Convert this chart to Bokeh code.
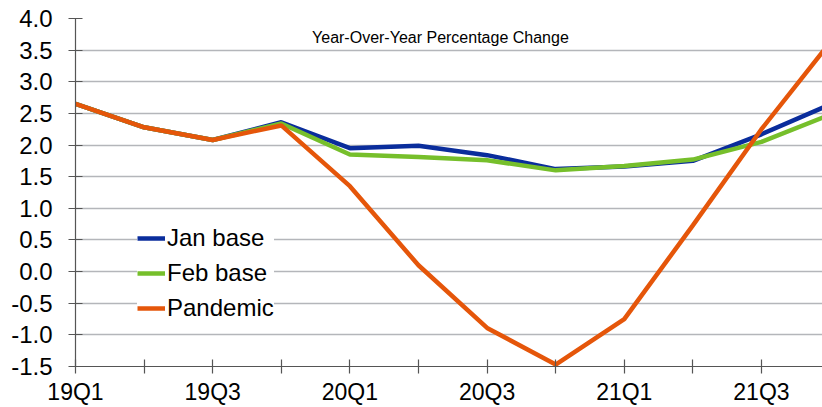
from bokeh.plotting import figure
from bokeh.models import Range1d, FixedTicker, Legend, LegendItem, Label
from bokeh.embed import file_html
from bokeh.resources import INLINE

quarters = ["19Q1", "19Q2", "19Q3", "19Q4", "20Q1", "20Q2", "20Q3", "20Q4",
            "21Q1", "21Q2", "21Q3", "21Q4"]
jan_base = [2.65, 2.28, 2.08, 2.36, 1.95, 1.99, 1.84, 1.62, 1.66, 1.75, 2.17, 2.64]
feb_base = [2.65, 2.28, 2.08, 2.34, 1.85, 1.81, 1.76, 1.60, 1.67, 1.77, 2.05, 2.48]
pandemic = [2.65, 2.28, 2.08, 2.31, 1.35, 0.10, -0.89, -1.47, -0.75, 0.73, 2.25, 3.62]
y_ticks = [-1.5, -1.0, -0.5, 0.0, 0.5, 1.0, 1.5, 2.0, 2.5, 3.0, 3.5, 4.0]
title_text = "Year-Over-Year Percentage Change"

xs = list(range(len(quarters)))
FONT = "Liberation Sans"

p = figure(width=822, height=407, output_backend="svg", toolbar_location=None,
           x_range=Range1d(0, 10.89), y_range=Range1d(-1.5, 4.0),
           min_border_left=75, min_border_right=0, min_border_top=18,
           min_border_bottom=41)
p.outline_line_color = None
p.background_fill_color = "white"

# axes
p.xaxis.ticker = FixedTicker(ticks=xs)
p.xaxis.major_label_overrides = {i: (q if i % 2 == 0 else "") for i, q in enumerate(quarters)}
p.yaxis.ticker = FixedTicker(ticks=y_ticks)
p.yaxis.major_label_overrides = {v: f"{v:.1f}" for v in y_ticks}
for ax in (p.xaxis, p.yaxis):
    ax.axis_line_color = "#555555"
    ax.axis_line_width = 1.2
    ax.major_tick_line_color = "#555555"
    ax.major_tick_line_width = 1.2
    ax.major_tick_in = 7
    ax.major_tick_out = 7
    ax.minor_tick_line_color = None
    ax.major_label_text_font = FONT
    ax.major_label_text_color = "black"
p.xaxis.major_label_text_font_size = "23px"
p.yaxis.major_label_text_font_size = "24px"
p.xaxis.major_label_standoff = 5
p.yaxis.major_label_standoff = 16

p.xgrid.grid_line_color = None
p.ygrid.grid_line_color = "#b4b6ba"
p.ygrid.grid_line_width = 1.3

r_jan = p.line(xs, jan_base, line_color="#0a2d9c", line_width=4.5)
r_feb = p.line(xs, feb_base, line_color="#76bf2b", line_width=4.5)
r_pan = p.line(xs, pandemic, line_color="#e5560a", line_width=4.5)

p.add_layout(Label(x=5.32, y=3.70, text=title_text, text_align="center",
                   text_baseline="middle", text_font=FONT,
                   text_font_size="16px", text_color="black"))

legend = Legend(items=[LegendItem(label="Jan base", renderers=[r_jan]),
                       LegendItem(label="Feb base", renderers=[r_feb]),
                       LegendItem(label="Pandemic", renderers=[r_pan])],
                location=(62, 42), padding=16, margin=0, spacing=3,
                label_height=32, glyph_height=32, glyph_width=28,
                label_standoff=2, border_line_color=None,
                background_fill_color="white", background_fill_alpha=1.0,
                label_text_font=FONT, label_text_font_size="24px",
                label_text_color="black")
p.add_layout(legend)

open("out.html", "w").write(file_html(p, INLINE))
